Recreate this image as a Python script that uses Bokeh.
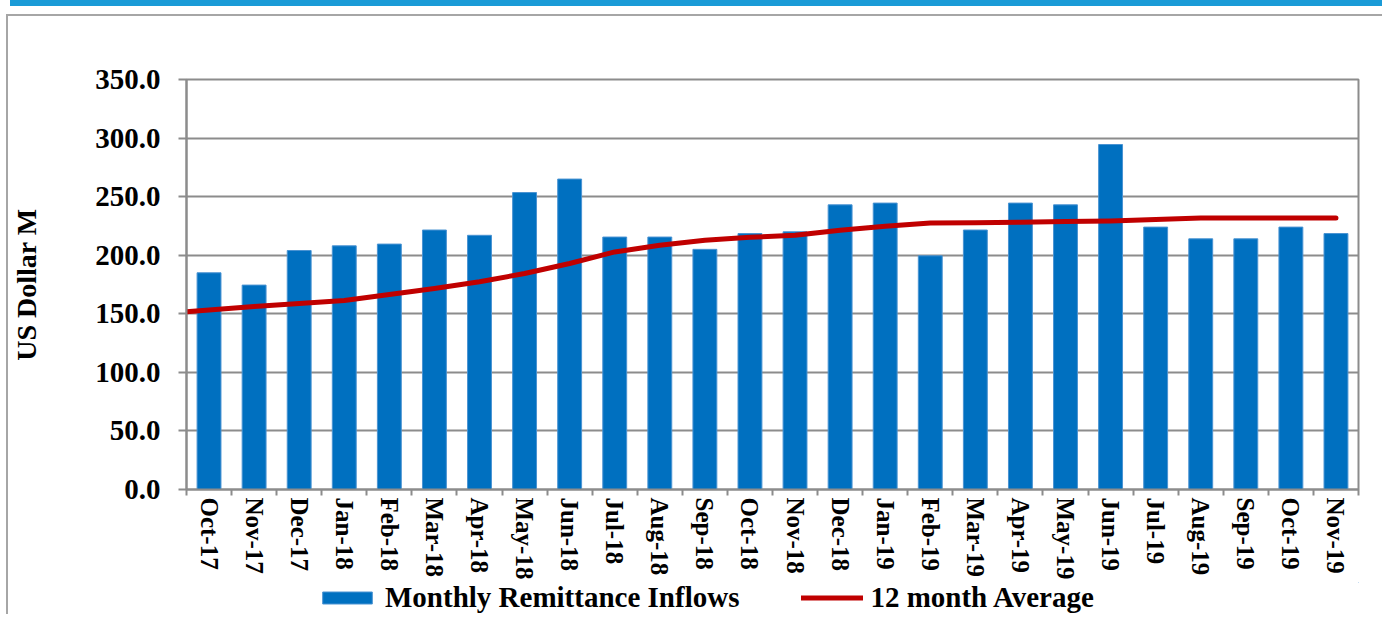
from bokeh.plotting import figure
from bokeh.models import (FixedTicker, NumeralTickFormatter, Legend, LegendItem,
                          Range1d)
from bokeh.layouts import column
from bokeh.embed import file_html
from bokeh.resources import INLINE

months = ["Oct-17", "Nov-17", "Dec-17", "Jan-18", "Feb-18", "Mar-18", "Apr-18",
          "May-18", "Jun-18", "Jul-18", "Aug-18", "Sep-18", "Oct-18", "Nov-18",
          "Dec-18", "Jan-19", "Feb-19", "Mar-19", "Apr-19", "May-19", "Jun-19",
          "Jul-19", "Aug-19", "Sep-19", "Oct-19", "Nov-19"]
remittance = [185.0, 174.5, 204.0, 208.0, 209.5, 221.5, 217.0, 253.5, 265.0,
              215.5, 215.5, 205.0, 218.5, 220.0, 243.0, 244.5, 199.5, 221.5,
              244.5, 243.0, 294.5, 224.0, 214.0, 214.0, 224.0, 218.5]
avg12 = [153.3, 156.3, 158.8, 161.3, 166.5, 171.6, 177.3, 184.4, 192.9,
         202.8, 208.5, 212.8, 215.3, 217.0, 221.3, 224.7, 227.6, 227.8,
         228.2, 228.8, 229.3, 230.4, 231.8, 231.8, 231.8, 231.8]
y_ticks = [0, 50, 100, 150, 200, 250, 300, 350]
series_names = ["Monthly Remittance Inflows", "12 month Average"]

FONT = "Liberation Serif"
GRID = "#8c8c8c"
BAND = "#1a9bd7"
BOX = "#a6a6a6"
BAR_COLOR = "#0070C0"
BAR_EDGE = "#4a93d2"
LINE_COLOR = "#C00000"

W = 1382
xs = list(range(len(months)))

p = figure(width=W, height=582, output_backend="svg", toolbar_location=None,
           x_range=Range1d(-0.5, len(months) - 0.5), y_range=Range1d(0, 350),
           min_border_left=186, min_border_right=24, min_border_top=79,
           min_border_bottom=93)
p.border_fill_color = None
p.background_fill_color = "white"
p.styles = {
    "background": (f"linear-gradient({BAND},{BAND}) 10px 0/100% 6px no-repeat, "
                   f"linear-gradient({BOX},{BOX}) 6px 14px/100% 2px no-repeat, "
                   f"linear-gradient({BOX},{BOX}) 6px 14px/2px 100% no-repeat, white")
}

bars = p.vbar(x=xs, top=remittance, width=0.53, fill_color=BAR_COLOR,
              line_color=BAR_EDGE, line_width=1)
# the average line starts at the left axis (extended from its first two points)
start = avg12[0] - 0.5 * (avg12[1] - avg12[0])
p.line([-0.5] + xs, [start] + avg12, line_color=LINE_COLOR, line_width=5,
       line_cap="round", line_join="round")

p.outline_line_color = GRID
p.outline_line_width = 2
p.xgrid.visible = False
p.ygrid.ticker = FixedTicker(ticks=y_ticks)
p.ygrid.grid_line_color = GRID
p.ygrid.grid_line_width = 2

xa = p.xaxis[0]
xa.ticker = FixedTicker(ticks=xs, minor_ticks=[i - 0.5 for i in range(len(months) + 1)])
xa.major_label_overrides = {i: m for i, m in enumerate(months)}
xa.major_label_orientation = "vertical"
xa.major_tick_out = 0
xa.major_tick_in = 0
xa.major_tick_line_color = None
xa.minor_tick_out = 6
xa.minor_tick_in = 0
xa.minor_tick_line_color = GRID
xa.minor_tick_line_width = 2
xa.axis_line_color = GRID
xa.axis_line_width = 2
xa.major_label_standoff = 2
xa.major_label_text_font = FONT
xa.major_label_text_font_style = "bold"
xa.major_label_text_font_size = "25px"
xa.major_label_text_color = "black"

ya = p.yaxis[0]
ya.ticker = FixedTicker(ticks=y_ticks)
ya.formatter = NumeralTickFormatter(format="0.0")
ya.major_tick_out = 8
ya.major_tick_in = 0
ya.minor_tick_line_color = None
ya.major_tick_line_color = GRID
ya.major_tick_line_width = 2
ya.axis_line_color = GRID
ya.axis_line_width = 2
ya.major_label_standoff = 18
ya.major_label_text_font = FONT
ya.major_label_text_font_style = "bold"
ya.major_label_text_font_size = "29px"
ya.major_label_text_color = "black"
ya.axis_label = "US Dollar M"
ya.axis_label_text_font = FONT
ya.axis_label_text_font_style = "bold"
ya.axis_label_text_font_size = "28px"
ya.axis_label_text_color = "black"
ya.axis_label_standoff = 50

# legend strip below the chart (its sample glyphs sit outside the visible range)
pl = figure(width=W, height=32, output_backend="svg", toolbar_location=None,
            x_range=Range1d(-100, -99), y_range=Range1d(-100, -99),
            min_border_left=0, min_border_right=0, min_border_top=0,
            min_border_bottom=0)
pl.border_fill_color = None
pl.background_fill_color = None
pl.outline_line_color = None
pl.axis.visible = False
pl.grid.visible = False
pl.styles = {"background": f"linear-gradient({BOX},{BOX}) 6px 0/2px 100% no-repeat, white"}
lb = pl.vbar(x=xs[:1], top=remittance[:1], width=0.53, fill_color=BAR_COLOR,
             line_color=BAR_EDGE, line_width=1)
ll = pl.line(x=xs[:2], y=avg12[:2], line_color=LINE_COLOR, line_width=5,
             line_cap="round")

legend = Legend(items=[LegendItem(label=series_names[0], renderers=[lb]),
                       LegendItem(label=series_names[1], renderers=[ll])],
                orientation="horizontal", location=(130, 0))
legend.label_text_font = FONT
legend.label_text_font_style = "bold"
legend.label_text_font_size = "29px"
legend.label_text_color = "black"
legend.label_standoff = 7
legend.spacing = 62
legend.glyph_width = 62
legend.glyph_height = 15
legend.label_height = 30
legend.padding = 0
legend.margin = 0
legend.border_line_color = None
legend.background_fill_alpha = 0
pl.add_layout(legend, "center")

layout = column(p, pl, spacing=0)
open("out.html", "w").write(file_html(layout, INLINE))
